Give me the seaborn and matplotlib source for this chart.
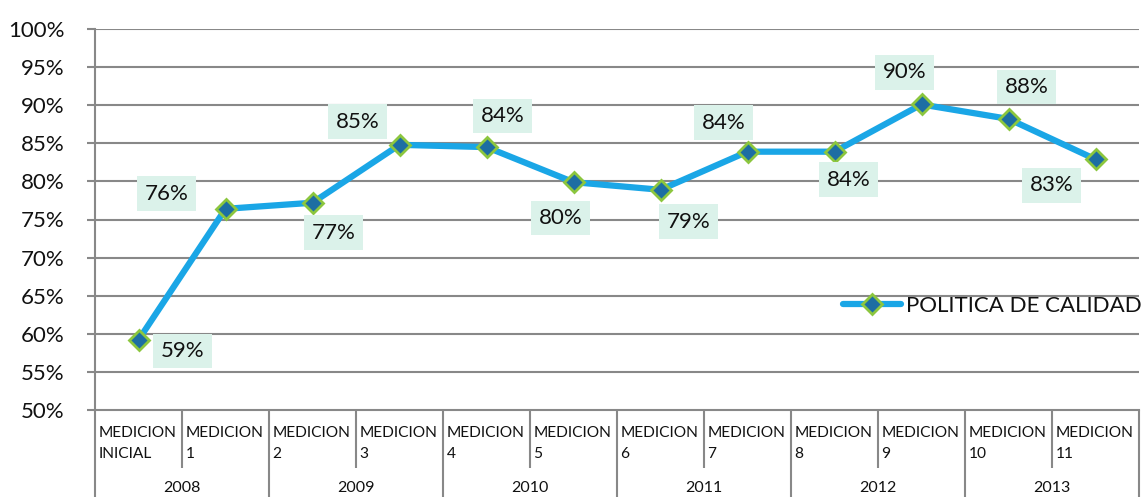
import matplotlib
matplotlib.use("Agg")
import matplotlib.pyplot as plt
import seaborn as sns
import pandas as pd
import numpy as np
from matplotlib.ticker import FuncFormatter, FixedLocator

# ---- data ----
categories = ["MEDICION\nINICIAL", "MEDICION\n1", "MEDICION\n2", "MEDICION\n3",
              "MEDICION\n4", "MEDICION\n5", "MEDICION\n6", "MEDICION\n7",
              "MEDICION\n8", "MEDICION\n9", "MEDICION\n10", "MEDICION\n11"]
years = ["2008", "2009", "2010", "2011", "2012", "2013"]
values = [0.592, 0.764, 0.772, 0.848, 0.845, 0.799, 0.789, 0.839, 0.839, 0.901, 0.882, 0.829]
value_labels = ["59%", "76%", "77%", "85%", "84%", "80%", "79%", "84%", "84%", "90%", "88%", "83%"]
series_name = "POLITICA DE CALIDAD"

# label offsets (pixels) — layout only
label_offsets = [(44, -11), (-59, 15), (21, -30), (-42, 23), (16, 31), (-13, -36),
                 (28, -32), (-24, 29), (14, -28), (-17, 32), (18, 32), (-44, -26)]

sns.set_theme(style="white")
plt.rcParams['font.family'] = ['Lato', 'DejaVu Sans']

W, H = 1145, 497
fig = plt.figure(figsize=(W / 100, H / 100), dpi=100)
x0, x1, ytop, ybot = 95, 1139, 29, 410
ax = fig.add_axes([x0 / W, (H - ybot) / H, (x1 - x0) / W, (ybot - ytop) / H])

df = pd.DataFrame({"x": np.arange(len(values)), "v": values, "s": series_name})

grid_c = "#888888"
txt_c = "#111111"
ax.set_ylim(0.5, 1.0)
ax.set_xlim(-0.5, len(values) - 0.5)
ax.set_yticks(np.arange(0.5, 1.0001, 0.05))
ax.yaxis.set_major_formatter(FuncFormatter(lambda v, p: f"{v*100:.0f}%"))
for yv in np.arange(0.55, 1.0001, 0.05):
    ax.axhline(yv, color=grid_c, lw=1.5, zorder=0)

sns.lineplot(data=df, x="x", y="v", hue="s", palette=["#1AA6E6"], lw=4.5,
             marker="D", markersize=10, markerfacecolor="#1D6EA3",
             markeredgecolor="#8CC63E", markeredgewidth=2, ax=ax, zorder=3)

for i, (v, t) in enumerate(zip(values, value_labels)):
    dx, dy = label_offsets[i]
    ax.annotate(t, (i, v), xytext=(dx, dy), textcoords="offset pixels",
                ha="center", va="center", fontsize=16, color=txt_c,
                bbox=dict(boxstyle="square,pad=0.33", fc="#DBF2EA", ec="none"), zorder=4)

for sp in ["top", "right"]:
    ax.spines[sp].set_visible(False)
for sp in ["left", "bottom"]:
    ax.spines[sp].set_color(grid_c)
    ax.spines[sp].set_linewidth(1.5)

ax.tick_params(axis="y", which="major", direction="out", length=6, width=1.5,
               color=grid_c, labelsize=16, labelcolor=txt_c, pad=16, left=True)

# x axis: category boundaries as ticks
n = len(values)
short_b = [b + 0.5 for b in range(0, n - 1, 2)]
long_b = [b - 0.5 for b in range(0, n + 1, 2)]
ax.xaxis.set_major_locator(FixedLocator(long_b))
ax.xaxis.set_minor_locator(FixedLocator(short_b))
ax.tick_params(axis="x", which="major", direction="out", length=65, width=1.5,
               color=grid_c, labelbottom=False, bottom=True)
ax.tick_params(axis="x", which="minor", direction="out", length=42, width=1.5,
               color=grid_c, labelbottom=False, bottom=True)
ax.set_xlabel("")
ax.set_ylabel("")

trans = ax.get_xaxis_transform()
px = 1.0 / (ybot - ytop)
for i, c in enumerate(categories):
    ax.text(i - 0.5 + 3.5 / 87, -16 * px, c, transform=trans, ha="left", va="top",
            fontsize=11.2, color=txt_c, linespacing=1.65, clip_on=False)
for j, yr in enumerate(years):
    ax.text(2 * j + 0.5, -71 * px, yr, transform=trans, ha="center", va="top",
            fontsize=11.5, color=txt_c, clip_on=False)

leg = ax.legend(loc="center left", bbox_to_anchor=((843 - x0) / (x1 - x0), (ybot - 306) / (ybot - ytop)),
                frameon=False, fontsize=16, handlelength=2.6, handletextpad=0.25,
                borderaxespad=0, borderpad=0)
for t in leg.get_texts():
    t.set_color(txt_c)

fig.savefig("out.png", dpi=100)
